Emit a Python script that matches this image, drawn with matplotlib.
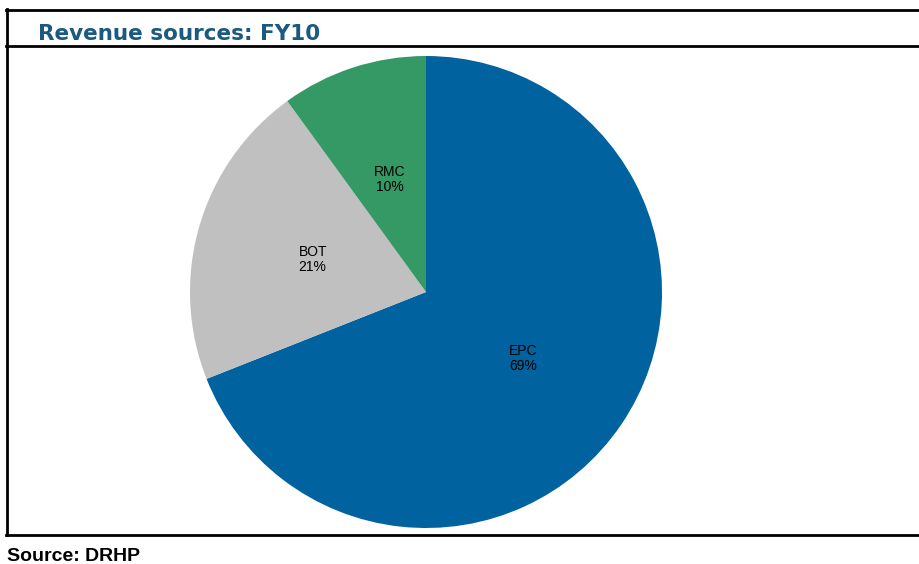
import matplotlib
matplotlib.use("Agg")
import matplotlib.pyplot as plt
from matplotlib.lines import Line2D

# Revenue split, FY10
segments = ["EPC", "BOT", "RMC"]
shares = [69, 21, 10]
colors = ["#00629E", "#C0C0C0", "#359966"]

W, H = 920, 564
fig = plt.figure(figsize=(W / 100, H / 100), dpi=100)


def fx(px):
    return px / W


def fy(py):
    return 1 - py / H


# frame lines
line_kw = dict(color="black", linewidth=2.0, transform=fig.transFigure)
fig.add_artist(Line2D([fx(6), 1], [fy(9.5), fy(9.5)], **line_kw))
fig.add_artist(Line2D([fx(6), 1], [fy(45.5), fy(45.5)], **line_kw))
fig.add_artist(Line2D([fx(6), 1], [fy(535), fy(535)], **line_kw))
fig.add_artist(Line2D([fx(7), fx(7)], [fy(9), fy(535)], **line_kw))

fig.text(fx(38), fy(40), "Revenue sources: FY10", fontsize=15.5, fontweight="bold",
         color="#1B5A80", family="DejaVu Sans", va="baseline", ha="left")
fig.text(fx(7), fy(561), "Source: DRHP", fontsize=14, fontweight="bold",
         color="black", family="Liberation Sans", va="baseline", ha="left")

# pie axes: center (426, 292), radius 236 px
r = 236
ax = fig.add_axes([fx(426 - r), fy(292 + r), 2 * r / W, 2 * r / H])
labels = [f"{s}\n{v}%" for s, v in zip(segments, shares)]
wedges, texts = ax.pie(
    shares,
    labels=labels,
    colors=colors,
    startangle=90,
    counterclock=False,
    labeldistance=0.5,
    radius=1,
    textprops={"fontsize": 10, "family": "Liberation Sans", "ha": "center",
               "va": "center", "linespacing": 1.1},
)
ax.set_xlim(-1, 1)
ax.set_ylim(-1, 1)
ax.set_aspect("equal")
ax.axis("off")

plt.savefig("out.png", dpi=100)
